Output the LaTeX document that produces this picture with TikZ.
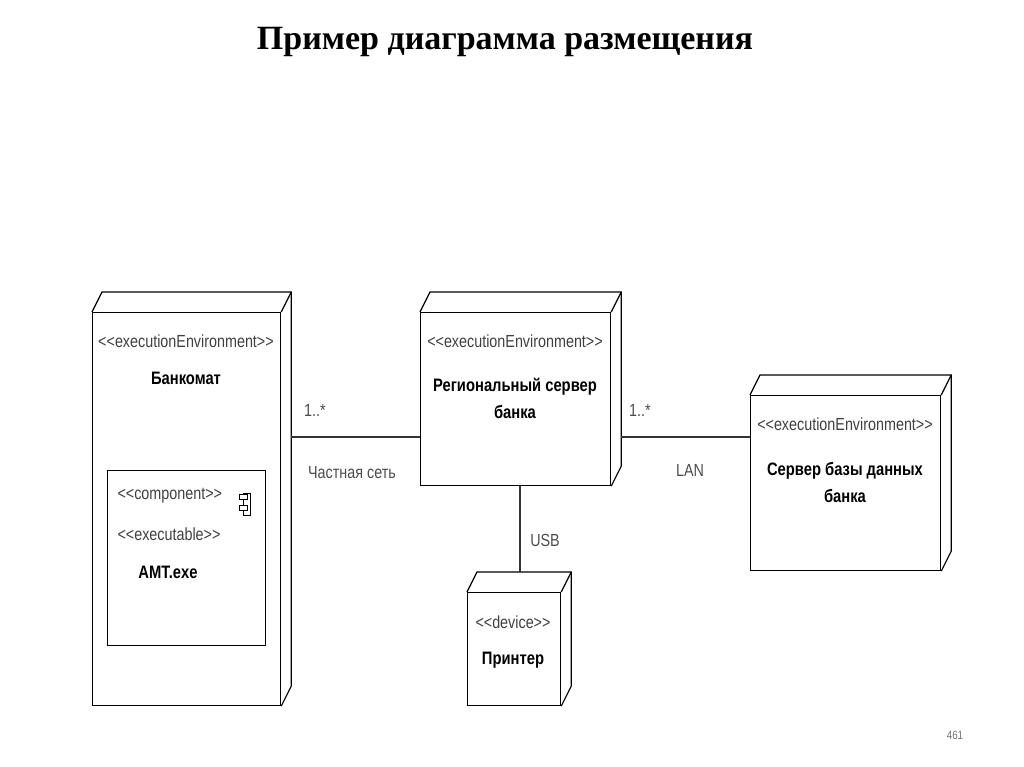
\documentclass[tikz,border=0pt]{standalone}
\usetikzlibrary{calc}
\usepackage{fontspec}
\setmainfont{Liberation Serif}
\newfontfamily\dsans[FakeStretch=0.82]{Liberation Sans}
\begin{document}
\begin{tikzpicture}[x=1pt,y=-1pt,
  box/.style={draw,line width=1.2pt,inner sep=0pt,anchor=north west},
  st/.style={font=\dsans\fontsize{17.5}{19}\selectfont,text=black!75},
  nm/.style={font=\dsans\bfseries\fontsize{18}{27}\selectfont,align=center},
  lb/.style={font=\dsans\fontsize{17.5}{19}\selectfont,text=black!70},
  ln/.style={line width=1.2pt,black!80}]
\useasboundingbox (0,0) rectangle (1024,767);
\newcommand\udnode[5]{%
  \node[box,minimum width=#4-#2,minimum height=#5-#3] (#1) at (#2,#3) {};
  \draw[line width=1.2pt] (#1.north west) -- ++(10,-20) -- ($(#1.north east)+(10,-20)$) -- ($(#1.south east)+(10,-20)$) -- (#1.south east);
  \draw[line width=1.2pt] (#1.north east) -- ++(10,-20);}
\node[font=\bfseries\fontsize{34}{38}\selectfont] (title) at (505,42) {Пример диаграмма размещения};
\udnode{atm}{92}{312}{280}{705}
\udnode{reg}{420}{312}{610}{485}
\udnode{prn}{467}{592}{560}{705}
\udnode{db}{750}{395}{940}{570}
\node[st] (s1) at (186,341) {<<executionEnvironment>>};
\node[nm] (n1) at (186,378) {Банкомат};
\node[st] (s2) at (515,341) {<<executionEnvironment>>};
\node[nm] (n2) at (515,398) {Региональный сервер\\банка};
\node[st] (s3) at (845,424) {<<executionEnvironment>>};
\node[nm] (n3) at (845,482) {Сервер базы данных\\банка};
\node[st] (s4) at (513,622) {<<device>>};
\node[nm] (n4) at (513,660) {Принтер};
\node[box,minimum width=158,minimum height=175] (cmp) at (107,470) {};
\node[st,anchor=west] (s5) at (114,496) {<<component>>};
\node[st,anchor=west] (s6) at (114,534) {<<executable>>};
\node[nm] (n5) at (168,572) {AMT.exe};
\node[draw,line width=1pt,minimum width=7,minimum height=22,inner sep=0pt] (ic) at (247,504) {};
\node[draw,line width=1pt,fill=white,minimum width=8,minimum height=5,inner sep=0pt] (ic1) at (ic.west|-,497) {};
\node[draw,line width=1pt,fill=white,minimum width=8,minimum height=5,inner sep=0pt] (ic2) at (ic.west|-,508) {};
\draw[ln] ($(atm.east|-0,437)+(10,0)$) -- (reg.west|-0,437);
\draw[ln] ($(reg.east|-0,437)+(10,0)$) -- (db.west|-0,437);
\draw[ln] (reg.south-|520,0) -- ($(prn.north-|520,0)+(0,-20)$);
\node[lb] (m1) at (315,410) {1..*};
\node[lb] (c1) at (352,473) {Частная сеть};
\node[lb] (m2) at (640,410) {1..*};
\node[lb] (c2) at (690,470) {LAN};
\node[lb] (c3) at (545,540) {USB};
\node[font=\dsans\fontsize{12}{14}\selectfont,text=black!55] (pg) at (955,735) {461};
\end{tikzpicture}
\end{document}
